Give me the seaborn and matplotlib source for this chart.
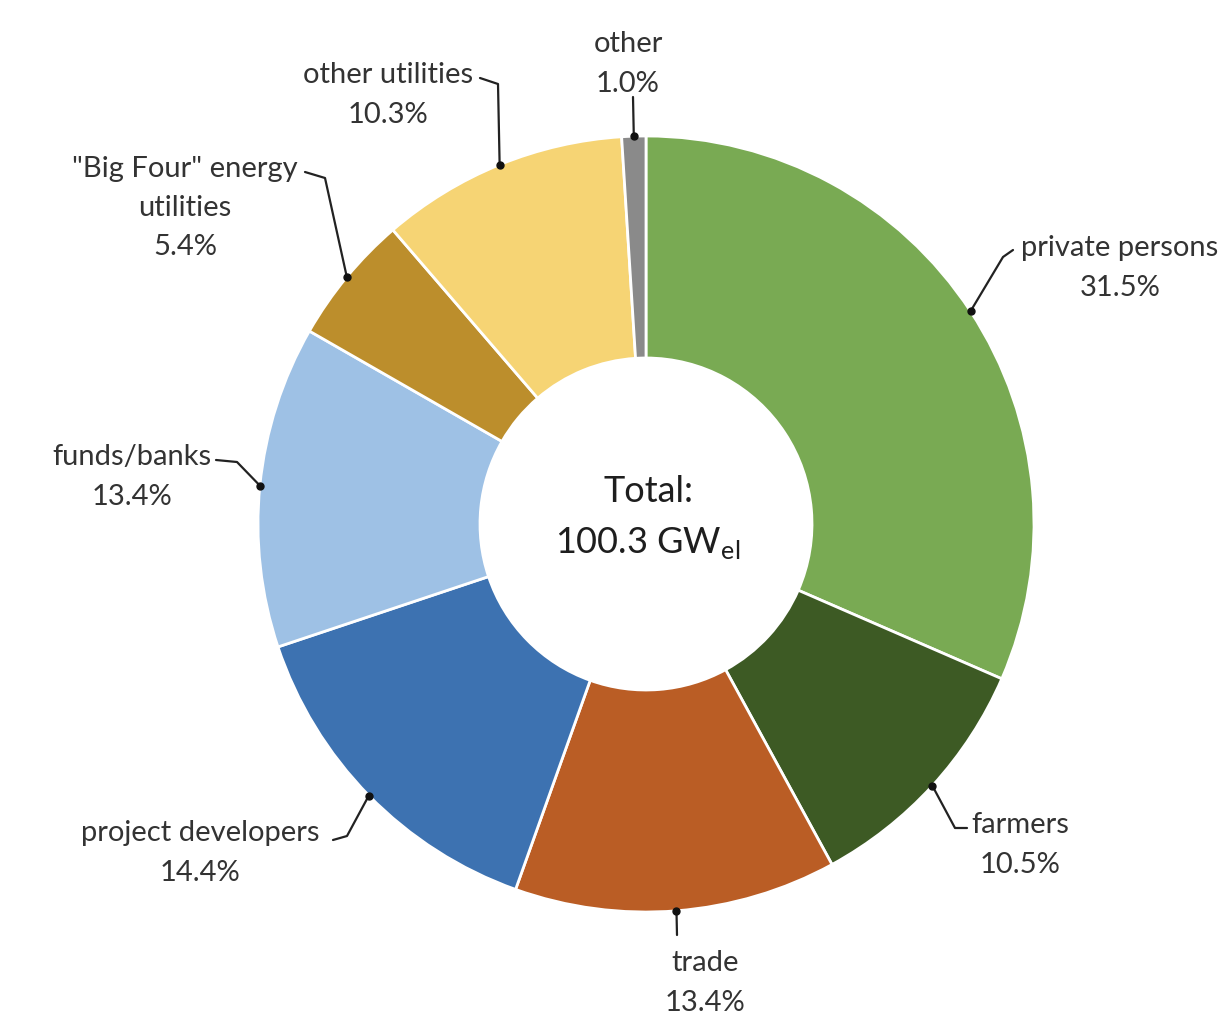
import numpy as np
import matplotlib.pyplot as plt
import seaborn as sns

# ---------- Data ----------
owners = ["private persons", "farmers", "trade", "project developers",
          "funds/banks", "\"Big Four\" energy\nutilities", "other utilities", "other"]
shares = [31.5, 10.5, 13.4, 14.4, 13.4, 5.4, 10.3, 1.0]
colors = ["#79AA53", "#3D5A24", "#BA5D25", "#3D72B1",
          "#9EC1E5", "#BC8E2C", "#F6D474", "#8A8A8A"]
total_label = "Total:\n100.3 GW$_{\\mathregular{el}}$"

# ---------- Layout (pixel coords, y down) ----------
W, H = 1228, 1017
CX, CY = 646, 524
R_OUT, R_IN = 388, 166
label_pos = [(1120, 268), (1020, 845), (705, 983), (200, 853),
             (132, 477), (185, 208), (388, 95), (628, 64)]
elbows = [[(1003, 257), (1013, 250)],
          [(955, 828), (967, 828)],
          [(677, 935)],
          [(347, 836), (333, 840)],
          [(237, 462), (216, 460)],
          [(325, 178), (305, 172)],
          [(498, 84), (480, 78)],
          [(633, 97)]]

sns.set_theme(style="white")
plt.rcParams['font.family'] = ['Lato', 'DejaVu Sans']

fig = plt.figure(figsize=(W / 100, H / 100), dpi=100)
ax = fig.add_axes([0, 0, 1, 1])

wedges, _ = ax.pie(shares, colors=colors, startangle=90, counterclock=False,
                   center=(CX, H - CY), radius=R_OUT, frame=True,
                   wedgeprops=dict(width=R_OUT - R_IN, edgecolor="white", linewidth=2))
ax.set_xlim(0, W)
ax.set_ylim(0, H)
ax.set_aspect("equal")
ax.axis("off")

for w, name, pct, (tx, ty), pts in zip(wedges, owners, shares, label_pos, elbows):
    mid = np.deg2rad((w.theta1 + w.theta2) / 2)
    dx, dy = CX + R_OUT * np.cos(mid), (H - CY) + R_OUT * np.sin(mid)
    xs = [dx] + [p[0] for p in pts]
    ys = [dy] + [H - p[1] for p in pts]
    ax.plot(xs, ys, color="#222222", lw=1.6, solid_capstyle="round")
    ax.plot(dx, dy, "o", color="#111111", ms=5)
    ax.text(tx, H - ty, f"{name}\n{pct:.1f}%", ha="center", va="center",
            multialignment="center", fontsize=21, color="#333333", linespacing=1.62)

ax.text(CX + 2, H - 518, total_label, ha="center", va="center",
        multialignment="center", fontsize=26, color="#1e1e1e", linespacing=1.6)

fig.savefig("out.png", dpi=100)
